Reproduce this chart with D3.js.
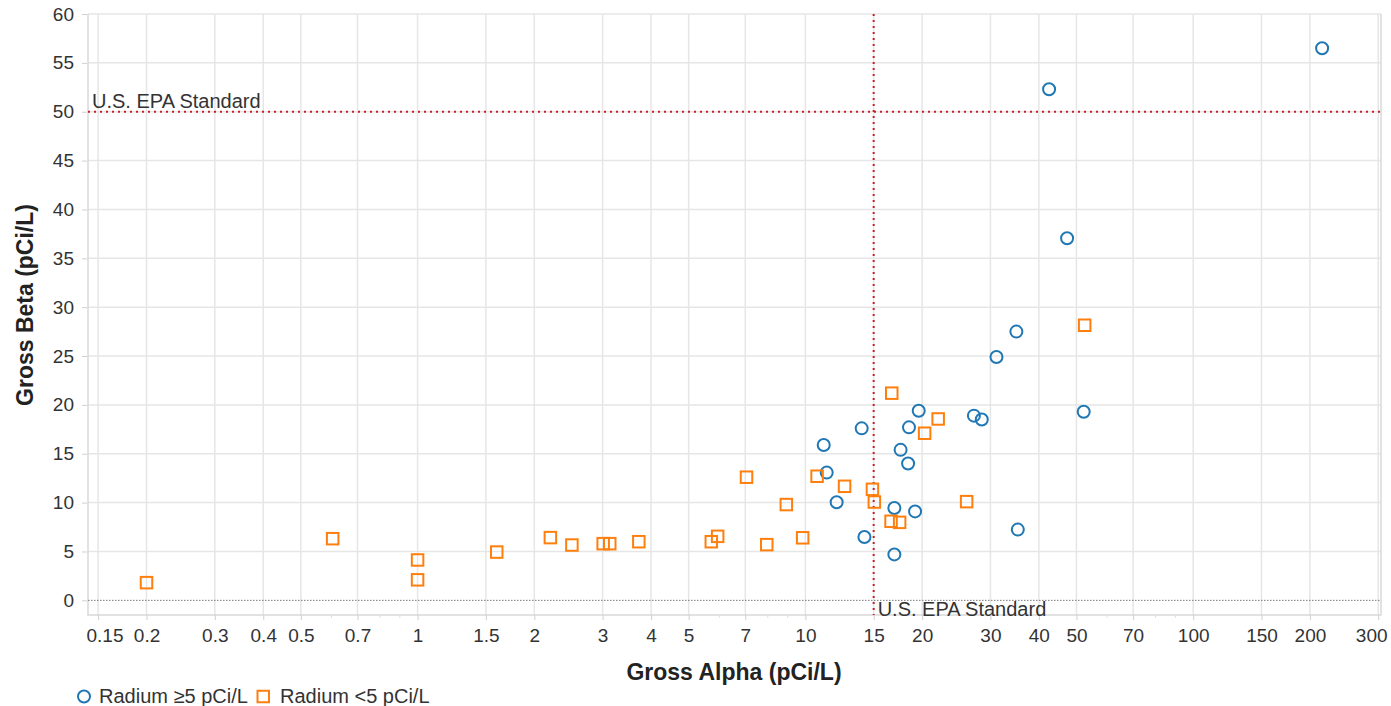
<!DOCTYPE html>
<html><head><meta charset="utf-8">
<script src="https://cdn.jsdelivr.net/npm/d3@7"></script>
<style>
body{margin:0;background:#fff;}
svg{font-family:"Liberation Sans",Arial,sans-serif;}
</style></head>
<body><svg id="c" width="1391" height="706"></svg>
<script>
// Radium >= 5 pCi/L (circles): [gross alpha, gross beta]
const radiumHighAlpha = [215, 42.5, 47.3, 35.0, 31.1, 52.2, 27.2, 28.5, 35.3, 19.6, 13.97, 18.5, 11.15, 17.6, 18.4, 11.35, 12.04, 16.96, 19.18, 14.2, 16.96];
const radiumHighBeta  = [56.5, 52.3, 37.05, 27.5, 24.9, 19.3, 18.9, 18.5, 7.24, 19.4, 17.6, 17.7, 15.9, 15.4, 14.0, 13.07, 10.03, 9.45, 9.1, 6.48, 4.7];
// Radium < 5 pCi/L (squares)
const radiumLowAlpha = [0.2, 0.604, 1.0, 1.0, 1.6, 2.2, 2.5, 3.01, 3.13, 3.72, 5.72, 5.94, 7.05, 7.95, 8.93, 9.84, 10.72, 12.62, 14.89, 15.06, 16.63, 16.7, 17.5, 20.3, 22.0, 26.05, 52.5];
const radiumLowBeta  = [1.81, 6.31, 4.13, 2.1, 4.94, 6.42, 5.66, 5.8, 5.8, 6.0, 6.0, 6.55, 12.6, 5.7, 9.8, 6.4, 12.7, 11.67, 11.36, 10.06, 8.09, 21.2, 7.98, 17.1, 18.56, 10.1, 28.15];
const xTickValues = [0.15, 0.2, 0.3, 0.4, 0.5, 0.7, 1, 1.5, 2, 3, 4, 5, 7, 10, 15, 20, 30, 40, 50, 70, 100, 150, 200, 300];
const xMinorTicks = [0.6, 0.8, 0.9, 6, 8, 9, 60, 80, 90];
const yTickValues = [0, 5, 10, 15, 20, 25, 30, 35, 40, 45, 50, 55, 60];
const epaAlpha = 15, epaBeta = 50;
const seriesNames = ["Radium \u22655 pCi/L", "Radium <5 pCi/L"];
const colors = ["#1f77b4", "#ff7f0e"];

const svg = d3.select("#c");
const L = 88, R = 1381, T = 14, B = 615;
const x = d3.scaleLog().domain([0.1413, 305]).range([L, R]);
const y = d3.scaleLinear().domain([-1.5, 60]).range([B, T]);

const grid = svg.append("g");
grid.selectAll(".vg").data(xTickValues).enter().append("line")
  .attr("x1", d => x(d)).attr("x2", d => x(d)).attr("y1", T).attr("y2", B)
  .attr("stroke", "#e6e6e6").attr("stroke-width", 1.5);
grid.selectAll(".hg").data(yTickValues.filter(d => d !== 0)).enter().append("line")
  .attr("x1", L).attr("x2", R).attr("y1", d => y(d)).attr("y2", d => y(d))
  .attr("stroke", "#e6e6e6").attr("stroke-width", 1.5);
// border
svg.append("path").attr("d", `M${L},${T}V${B}H${R}V${T}`).attr("fill", "none")
  .attr("stroke", "#d9d9d9").attr("stroke-width", 1.5);

// zero line
svg.append("line").attr("x1", L).attr("x2", R).attr("y1", y(0)).attr("y2", y(0))
  .attr("stroke", "#777").attr("stroke-width", 1).attr("stroke-dasharray", "1.5,1.5");

// x axis
const xAxis = d3.axisBottom(x).tickValues(xTickValues).tickFormat(d => String(d)).tickSize(5).tickPadding(9);
const gx = svg.append("g").attr("transform", `translate(0,${B})`).call(xAxis);
gx.select(".domain").remove();
gx.selectAll(".tick line").attr("stroke", "#d0d0d0");
gx.selectAll(".tick text").attr("font-size", 19).attr("fill", "#333").attr("font-family", "Liberation Sans, Arial, sans-serif");
gx.selectAll(".tick text").filter(d => d === xTickValues[0])
  .attr("text-anchor", "start").attr("x", 86 - x(xTickValues[0]));
gx.selectAll(".tick text").filter(d => d === xTickValues[xTickValues.length - 1])
  .attr("text-anchor", "end").attr("x", 1387 - x(xTickValues[xTickValues.length - 1]));
svg.append("g").selectAll("line").data(xMinorTicks).enter().append("line")
  .attr("x1", d => x(d)).attr("x2", d => x(d)).attr("y1", B).attr("y2", B + 3)
  .attr("stroke", "#e0e0e0");

// y axis
const yAxis = d3.axisLeft(y).tickValues(yTickValues).tickSize(5).tickPadding(8);
const gy = svg.append("g").attr("transform", `translate(${L - 1},0)`).call(yAxis);
gy.select(".domain").remove();
gy.selectAll(".tick line").attr("stroke", "#d0d0d0");
gy.selectAll(".tick text").attr("font-size", 19).attr("fill", "#333").attr("font-family", "Liberation Sans, Arial, sans-serif");

// EPA lines
svg.append("line").attr("x1", L).attr("x2", R).attr("y1", y(epaBeta)).attr("y2", y(epaBeta))
  .attr("stroke", "#c8202a").attr("stroke-width", 2).attr("stroke-dasharray", "2,4");
svg.append("line").attr("x1", x(epaAlpha)).attr("x2", x(epaAlpha)).attr("y1", T).attr("y2", B)
  .attr("stroke", "#c8202a").attr("stroke-width", 2).attr("stroke-dasharray", "2,4");
svg.append("text").attr("x", L + 4).attr("y", y(epaBeta) - 4).text("U.S. EPA Standard")
  .attr("font-size", 20).attr("fill", "#333");
svg.append("text").attr("x", x(epaAlpha) + 4).attr("y", B + 1).text("U.S. EPA Standard")
  .attr("font-size", 20).attr("fill", "#333");

// points
const high = radiumHighAlpha.map((a, i) => ({a, b: radiumHighBeta[i]}));
const low = radiumLowAlpha.map((a, i) => ({a, b: radiumLowBeta[i]}));
svg.append("g").selectAll("circle").data(high).enter().append("circle")
  .attr("cx", d => x(d.a)).attr("cy", d => y(d.b)).attr("r", 6)
  .attr("fill", "none").attr("stroke", colors[0]).attr("stroke-width", 2);
svg.append("g").selectAll("rect").data(low).enter().append("rect")
  .attr("x", d => x(d.a) - 5.75).attr("y", d => y(d.b) - 5.75).attr("width", 11.5).attr("height", 11.5)
  .attr("fill", "none").attr("stroke", colors[1]).attr("stroke-width", 2);

// axis titles
svg.append("text").attr("x", 734).attr("y", 680).attr("text-anchor", "middle")
  .attr("font-size", 23).attr("font-weight", "bold").attr("fill", "#222").text("Gross Alpha (pCi/L)");
svg.append("text").attr("transform", `translate(33,305) rotate(-90)`).attr("text-anchor", "middle")
  .attr("font-size", 23).attr("font-weight", "bold").attr("fill", "#222").text("Gross Beta (pCi/L)");

// legend
const lg = svg.append("g");
lg.append("circle").attr("cx", 84).attr("cy", 696.5).attr("r", 6).attr("fill", "none")
  .attr("stroke", colors[0]).attr("stroke-width", 2);
lg.append("text").attr("x", 99).attr("y", 703).attr("font-size", 20).attr("fill", "#333").text(seriesNames[0]);
lg.append("rect").attr("x", 257.5).attr("y", 690.75).attr("width", 11.5).attr("height", 11.5).attr("fill", "none")
  .attr("stroke", colors[1]).attr("stroke-width", 2);
lg.append("text").attr("x", 280).attr("y", 703).attr("font-size", 20).attr("fill", "#333").text(seriesNames[1]);
</script></body></html>
